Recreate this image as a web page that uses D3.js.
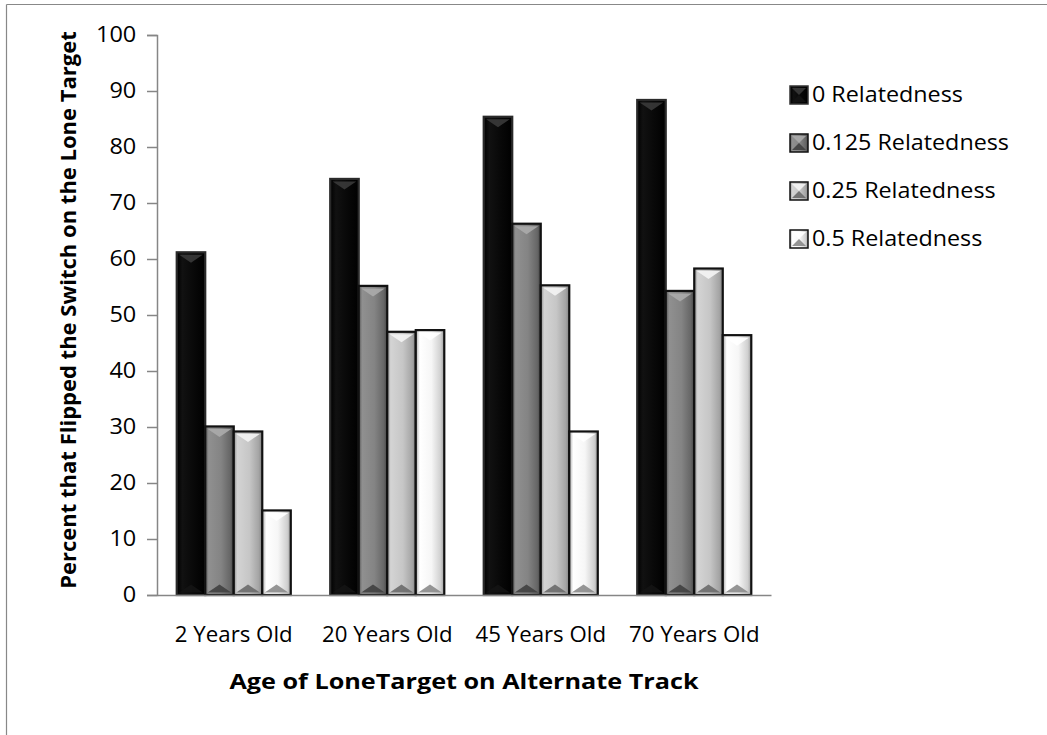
<!DOCTYPE html>
<html><head><meta charset="utf-8">
<script src="https://cdn.jsdelivr.net/npm/d3@7"></script>
<style>body{margin:0;background:#fff}svg{display:block}text{font-family:"Open Sans",sans-serif;fill:#000}</style>
</head><body><svg id="c" width="1047" height="735"></svg>
<script>
const categories = ["2 Years Old","20 Years Old","45 Years Old","70 Years Old"];
const seriesNames = ["0 Relatedness","0.125 Relatedness","0.25 Relatedness","0.5 Relatedness"];
const rel0 = [61.2, 74.3, 85.4, 88.4];
const rel0125 = [30.1, 55.2, 66.3, 54.3];
const rel025 = [29.2, 47.0, 55.3, 58.3];
const rel05 = [15.1, 47.3, 29.2, 46.4];
const yTicks = [0,10,20,30,40,50,60,70,80,90,100];
const seriesValues = [rel0, rel0125, rel025, rel05];

const styles = [
  {stops:[["0%","#000"],["20%","#111"],["60%","#080808"],["100%","#000"]], top:"#3a3a3a", bot:"#141414", stroke:"#2a2a2a"},
  {stops:[["0%","#555"],["12%","#909090"],["55%","#848484"],["88%","#666"],["100%","#444"]], top:"#ababab", bot:"#404040", stroke:"#111"},
  {stops:[["0%","#8a8a8a"],["12%","#d4d4d4"],["55%","#c6c6c6"],["88%","#a4a4a4"],["100%","#808080"]], top:"#f4f4f4", bot:"#6a6a6a", stroke:"#111"},
  {stops:[["0%","#a8a8a8"],["14%","#ffffff"],["55%","#f6f6f6"],["88%","#cfcfcf"],["100%","#9a9a9a"]], top:"#ffffff", bot:"#8a8a8a", stroke:"#111"}
];

const FS = "21px";
const svg = d3.select("#c");
const defs = svg.append("defs");
styles.forEach((s,i)=>{
  const g = defs.append("linearGradient").attr("id","g"+i).attr("x1","0").attr("x2","1").attr("y1","0").attr("y2","0");
  s.stops.forEach(st=>g.append("stop").attr("offset",st[0]).attr("stop-color",st[1]));
});

// frame
svg.append("line").attr("x1",6.5).attr("x2",6.5).attr("y1",4.5).attr("y2",735).attr("stroke","#888").attr("stroke-width",1.2);
svg.append("line").attr("x1",6.5).attr("x2",1047).attr("y1",4.5).attr("y2",4.5).attr("stroke","#888").attr("stroke-width",1.2);

const pLeft = 157, pRight = 771, pTop = 35, pBottom = 595;
const y = d3.scaleLinear().domain([0,100]).range([pBottom, pTop]);
const x0 = d3.scaleBand().domain(categories).range([pLeft,pRight]).paddingInner(0.257).paddingOuter(0.1285);
const x1 = d3.scaleBand().domain(seriesNames).range([0, x0.bandwidth()]);

// y axis
const yAxis = svg.append("g").attr("transform",`translate(${pLeft},0)`)
  .call(d3.axisLeft(y).tickValues(yTicks).tickSize(10).tickPadding(10));
yAxis.select(".domain").attr("stroke","#868686").attr("stroke-width",1.5);
yAxis.selectAll(".tick line").attr("stroke","#868686").attr("stroke-width",1.5);
yAxis.selectAll("text").style("font-size",FS).style("font-family","'Open Sans',sans-serif").attr("fill","#000")
  .attr("x",-18.5).attr("transform","scale(1.12,1)");

// bars
const groups = svg.append("g").selectAll("g").data(categories).join("g")
  .attr("transform",d=>`translate(${x0(d)},0)`);
seriesNames.forEach((sn,si)=>{
  groups.each(function(cat,ci){
    const v = seriesValues[si][ci];
    const bx = x1(sn), bw = x1.bandwidth();
    const by = y(v), bh = y(0)-y(v);
    const g = d3.select(this).append("g");
    g.append("rect").attr("x",bx).attr("y",by).attr("width",bw).attr("height",bh)
      .attr("fill",`url(#g${si})`);
    const ins = 2.5, th = 8;
    g.append("path").attr("d",`M${bx+ins},${by+ins}L${bx+bw-ins},${by+ins}L${bx+bw/2},${by+ins+th}Z`).attr("fill",styles[si].top).attr("opacity",0.9);
    g.append("path").attr("d",`M${bx+ins},${y(0)-ins}L${bx+bw-ins},${y(0)-ins}L${bx+bw/2},${y(0)-ins-th}Z`).attr("fill",styles[si].bot).attr("opacity",0.9);
    g.append("rect").attr("x",bx).attr("y",by).attr("width",bw).attr("height",bh)
      .attr("fill","none").attr("stroke",styles[si].stroke).attr("stroke-width",2.2);
  });
});

// x axis
const xAxis = svg.append("g").attr("transform",`translate(0,${pBottom})`)
  .call(d3.axisBottom(x0).tickSize(0).tickPadding(32));
xAxis.select(".domain").attr("stroke","#868686").attr("stroke-width",1.5);
xAxis.selectAll("text").style("font-size",FS).style("font-family","'Open Sans',sans-serif").attr("fill","#000")
  .attr("transform","scale(1.06,1)");

// titles
svg.append("g").attr("transform","translate(464,689) scale(1.2,1)")
  .append("text").attr("text-anchor","middle")
  .style("font-size",FS).style("font-weight","bold").text("Age of LoneTarget on Alternate Track");
svg.append("text").attr("transform","translate(76,310) rotate(-90)").attr("text-anchor","middle")
  .style("font-size","22px").style("font-weight","bold").text("Percent that Flipped the Switch on the Lone Target");

// legend
const lg = svg.append("g").selectAll("g").data(seriesNames).join("g")
  .attr("transform",(d,i)=>`translate(790,${86+i*48})`);
lg.each(function(d,i){
  const g = d3.select(this);
  g.append("rect").attr("width",18).attr("height",18).attr("fill",`url(#g${i})`);
  g.append("path").attr("d","M2,2L16,2L9,9Z").attr("fill",styles[i].top).attr("opacity",0.9);
  g.append("path").attr("d","M2,16L16,16L9,9Z").attr("fill",styles[i].bot).attr("opacity",0.9);
  g.append("rect").attr("width",18).attr("height",18).attr("fill","none").attr("stroke",i===0?"#333":"#111").attr("stroke-width",1.5);
  g.append("g").attr("transform","translate(22,9) scale(1.11,1)")
    .append("text").attr("dy","0.35em").style("font-size",FS).text(d);
});
</script></body></html>
